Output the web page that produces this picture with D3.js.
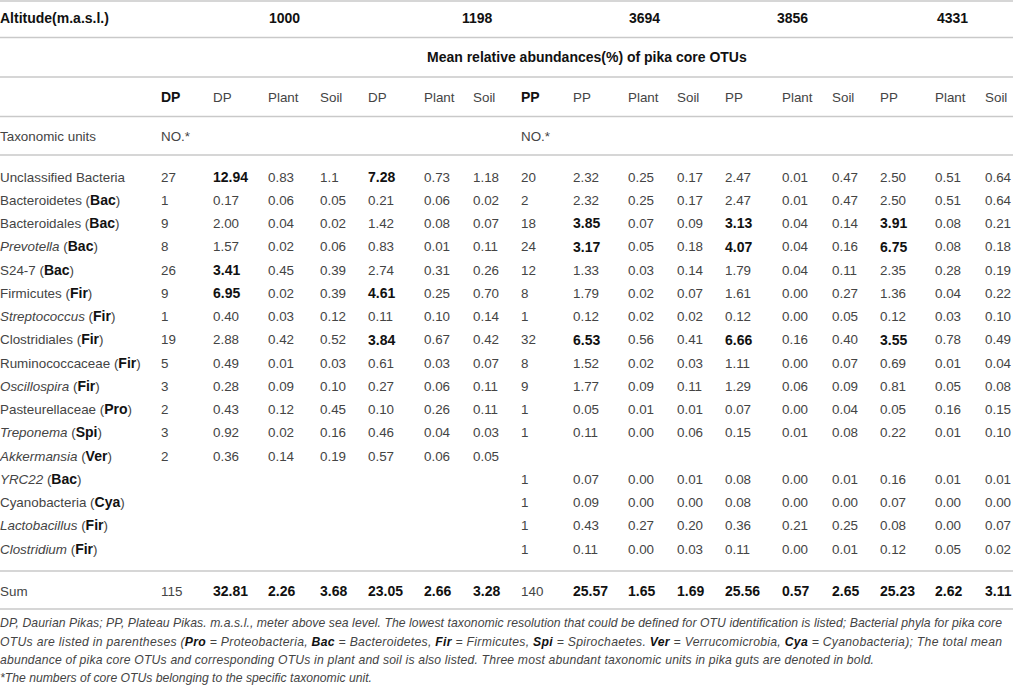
<!DOCTYPE html>
<html>
<head>
<meta charset="utf-8">
<script src="https://cdn.jsdelivr.net/npm/d3@7.9.0/dist/d3.min.js"></script>
<style>
  body { margin: 0; background: #fff; }
  svg { display: block; font-family: "Liberation Sans", Arial, sans-serif; }
</style>
</head>
<body>
<svg id="table"></svg>
<script>
const altitudes = ["1000", "1198", "3694", "3856", "4331"];
const subHeaders = ["DP", "DP", "Plant", "Soil", "DP", "Plant", "Soil",
                    "PP", "PP", "Plant", "Soil", "PP", "Plant", "Soil", "PP", "Plant", "Soil"];

const taxonNames = ["Unclassified Bacteria", "Bacteroidetes", "Bacteroidales", "Prevotella", "S24-7",
  "Firmicutes", "Streptococcus", "Clostridiales", "Ruminococcaceae", "Oscillospira",
  "Pasteurellaceae", "Treponema", "Akkermansia", "YRC22", "Cyanobacteria", "Lactobacillus", "Clostridium"];
const taxonPhyla = ["", "Bac", "Bac", "Bac", "Bac", "Fir", "Fir", "Fir", "Fir", "Fir",
  "Pro", "Spi", "Ver", "Bac", "Cya", "Fir", "Fir"];
const genusRows = [3, 6, 9, 11, 12, 13, 15, 16];

const dpNo      = ["27", "1", "9", "8", "26", "9", "1", "19", "5", "3", "2", "3", "2", "", "", "", ""];
const dp1000    = ["12.94", "0.17", "2.00", "1.57", "3.41", "6.95", "0.40", "2.88", "0.49", "0.28", "0.43", "0.92", "0.36", "", "", "", ""];
const plant1000 = ["0.83", "0.06", "0.04", "0.02", "0.45", "0.02", "0.03", "0.42", "0.01", "0.09", "0.12", "0.02", "0.14", "", "", "", ""];
const soil1000  = ["1.1", "0.05", "0.02", "0.06", "0.39", "0.39", "0.12", "0.52", "0.03", "0.10", "0.45", "0.16", "0.19", "", "", "", ""];
const dp1198    = ["7.28", "0.21", "1.42", "0.83", "2.74", "4.61", "0.11", "3.84", "0.61", "0.27", "0.10", "0.46", "0.57", "", "", "", ""];
const plant1198 = ["0.73", "0.06", "0.08", "0.01", "0.31", "0.25", "0.10", "0.67", "0.03", "0.06", "0.26", "0.04", "0.06", "", "", "", ""];
const soil1198  = ["1.18", "0.02", "0.07", "0.11", "0.26", "0.70", "0.14", "0.42", "0.07", "0.11", "0.11", "0.03", "0.05", "", "", "", ""];
const ppNo      = ["20", "2", "18", "24", "12", "8", "1", "32", "8", "9", "1", "1", "", "1", "1", "1", "1"];
const pp3694    = ["2.32", "2.32", "3.85", "3.17", "1.33", "1.79", "0.12", "6.53", "1.52", "1.77", "0.05", "0.11", "", "0.07", "0.09", "0.43", "0.11"];
const plant3694 = ["0.25", "0.25", "0.07", "0.05", "0.03", "0.02", "0.02", "0.56", "0.02", "0.09", "0.01", "0.00", "", "0.00", "0.00", "0.27", "0.00"];
const soil3694  = ["0.17", "0.17", "0.09", "0.18", "0.14", "0.07", "0.02", "0.41", "0.03", "0.11", "0.01", "0.06", "", "0.01", "0.00", "0.20", "0.03"];
const pp3856    = ["2.47", "2.47", "3.13", "4.07", "1.79", "1.61", "0.12", "6.66", "1.11", "1.29", "0.07", "0.15", "", "0.08", "0.08", "0.36", "0.11"];
const plant3856 = ["0.01", "0.01", "0.04", "0.04", "0.04", "0.00", "0.00", "0.16", "0.00", "0.06", "0.00", "0.01", "", "0.00", "0.00", "0.21", "0.00"];
const soil3856  = ["0.47", "0.47", "0.14", "0.16", "0.11", "0.27", "0.05", "0.40", "0.07", "0.09", "0.04", "0.08", "", "0.01", "0.00", "0.25", "0.01"];
const pp4331    = ["2.50", "2.50", "3.91", "6.75", "2.35", "1.36", "0.12", "3.55", "0.69", "0.81", "0.05", "0.22", "", "0.16", "0.07", "0.08", "0.12"];
const plant4331 = ["0.51", "0.51", "0.08", "0.08", "0.28", "0.04", "0.03", "0.78", "0.01", "0.05", "0.16", "0.01", "", "0.01", "0.00", "0.00", "0.05"];
const soil4331  = ["0.64", "0.64", "0.21", "0.18", "0.19", "0.22", "0.10", "0.49", "0.04", "0.08", "0.15", "0.10", "", "0.01", "0.00", "0.07", "0.02"];

const sumRow = ["115", "32.81", "2.26", "3.68", "23.05", "2.66", "3.28",
                "140", "25.57", "1.65", "1.69", "25.56", "0.57", "2.65", "25.23", "2.62", "3.11"];

// rows shown in bold, per column (three most abundant units)
const boldRows = { 1: [0, 4, 5], 4: [0, 5, 7], 8: [2, 3, 7], 11: [2, 3, 7], 14: [2, 3, 7] };

const columns = [dpNo, dp1000, plant1000, soil1000, dp1198, plant1198, soil1198,
  ppNo, pp3694, plant3694, soil3694, pp3856, plant3856, soil3856, pp4331, plant4331, soil4331];

const footnotes = [
  [["DP, Daurian Pikas; PP, Plateau Pikas. m.a.s.l., meter above sea level. The lowest taxonomic resolution that could be defined for OTU identification is listed; Bacterial phyla for pika core", false]],
  [["OTUs are listed in parentheses (", false], ["Pro", true], [" = Proteobacteria, ", false], ["Bac", true],
   [" = Bacteroidetes, ", false], ["Fir", true], [" = Firmicutes, ", false], ["Spi", true],
   [" = Spirochaetes. ", false], ["Ver", true], [" = Verrucomicrobia, ", false], ["Cya", true],
   [" = Cyanobacteria); The total mean", false]],
  [["abundance of pika core OTUs and corresponding OTUs in plant and soil is also listed. Three most abundant taxonomic units in pika guts are denoted in bold.", false]],
  [["*The numbers of core OTUs belonging to the specific taxonomic unit.", false]]
];

// ---- layout ----
const W = 1013, H = 686;
const textColor = "#444", boldColor = "#111", ruleColor = "#c9c9c9";
const fs = 13.4, fsBold = 14, fsNote = 12.2;
const noteWidths = [1002, 1002, 874, 372];

const svg = d3.select("#table").attr("width", W).attr("height", H);

const colX = d3.scaleOrdinal()
  .domain(d3.range(columns.length))
  .range([161, 213, 268, 320, 368, 424, 473, 521, 573, 628, 677, 725, 782, 832, 880, 935, 985]);
const altX = d3.scaleOrdinal().domain(altitudes).range([269, 462, 629, 777, 937]);

const rowY = d3.scalePoint().domain(d3.range(taxonNames.length)).range([177, 549]);

const rules = [1, 37.5, 77, 116.5, 155, 571, 609];
svg.selectAll("line.rule").data(rules).join("line")
  .attr("class", "rule")
  .attr("x1", 0).attr("x2", W)
  .attr("y1", d => d).attr("y2", d => d)
  .attr("stroke", ruleColor).attr("stroke-width", 1.3);

function styleText(sel, bold) {
  const isBold = d => (typeof bold === "function" ? bold(d) : bold);
  return sel.attr("dy", "0.35em")
    .attr("font-size", d => isBold(d) ? fsBold : fs)
    .attr("font-weight", d => isBold(d) ? "bold" : "normal")
    .attr("fill", d => isBold(d) ? boldColor : textColor);
}

function txt(x, y, s, bold) {
  return styleText(svg.append("text").attr("x", x).attr("y", y), bold).text(s);
}

// header rows
txt(0, 18.5, "Altitude(m.a.s.l.)", true);
styleText(svg.selectAll("text.alt").data(altitudes).join("text")
  .attr("class", "alt")
  .attr("x", d => altX(d)).attr("y", 18.5), true)
  .text(d => d);
txt(427, 57, "Mean relative abundances(%) of pika core OTUs", true);

const subBold = [0, 7];
svg.selectAll("text.sub").data(subHeaders).join("text")
  .attr("class", "sub")
  .attr("x", (d, i) => colX(i)).attr("y", 97).attr("dy", "0.35em")
  .attr("font-size", (d, i) => subBold.includes(i) ? fsBold : fs)
  .attr("font-weight", (d, i) => subBold.includes(i) ? "bold" : "normal")
  .attr("fill", (d, i) => subBold.includes(i) ? boldColor : textColor)
  .text(d => d);

txt(0, 136, "Taxonomic units", false);
txt(colX(0), 136, "NO.*", false);
txt(colX(7), 136, "NO.*", false);

// taxon labels
const labels = svg.selectAll("text.taxon").data(taxonNames).join("text")
  .attr("class", "taxon")
  .attr("x", 0).attr("y", (d, i) => rowY(i)).attr("dy", "0.35em")
  .attr("font-size", fs).attr("fill", textColor);
labels.append("tspan")
  .attr("font-style", (d, i) => genusRows.includes(i) ? "italic" : "normal")
  .text(d => d);
labels.each(function (d, i) {
  const p = taxonPhyla[i];
  if (!p) return;
  const t = d3.select(this);
  t.append("tspan").text(" (");
  t.append("tspan").attr("font-weight", "bold").attr("font-size", fsBold).attr("fill", boldColor).text(p);
  t.append("tspan").text(")");
});

// value cells
const cells = [];
columns.forEach((col, c) => col.forEach((v, r) => {
  if (v !== "") cells.push({ c, r, v, bold: (boldRows[c] || []).includes(r) });
}));
styleText(svg.selectAll("text.cell").data(cells).join("text")
  .attr("class", "cell")
  .attr("x", d => colX(d.c)).attr("y", d => rowY(d.r)), d => d.bold)
  .text(d => d.v);

// sum row
txt(0, 591, "Sum", false);
svg.selectAll("text.sum").data(sumRow).join("text")
  .attr("class", "sum")
  .attr("x", (d, i) => colX(i)).attr("y", 591).attr("dy", "0.35em")
  .attr("font-size", (d, i) => subBold.includes(i) ? fs : fsBold)
  .attr("font-weight", (d, i) => subBold.includes(i) ? "normal" : "bold")
  .attr("fill", (d, i) => subBold.includes(i) ? textColor : boldColor)
  .text(d => d);

// footnote
const fnY = d3.scalePoint().domain(d3.range(footnotes.length)).range([623, 678]);
const fn = svg.selectAll("text.fn").data(footnotes).join("text")
  .attr("class", "fn")
  .attr("x", 0).attr("y", (d, i) => fnY(i)).attr("dy", "0.35em")
  .attr("font-size", fsNote).attr("font-style", "italic").attr("fill", textColor)
  .attr("textLength", (d, i) => noteWidths[i])
  .attr("lengthAdjust", "spacing");
fn.selectAll("tspan").data(d => d).join("tspan")
  .attr("font-weight", d => d[1] ? "bold" : "normal")
  .attr("fill", d => d[1] ? boldColor : textColor)
  .text(d => d[0]);
</script>
</body>
</html>
